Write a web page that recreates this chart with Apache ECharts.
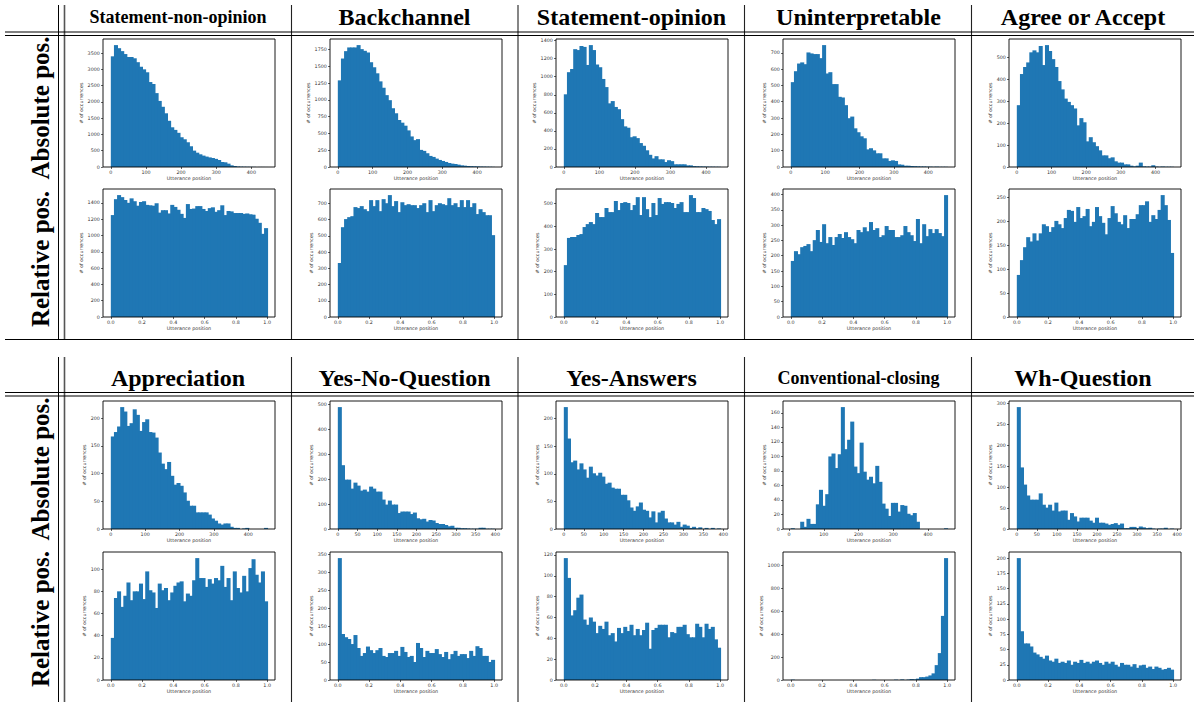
<!DOCTYPE html>
<html><head><meta charset="utf-8">
<script src="https://cdn.jsdelivr.net/npm/echarts@6/dist/echarts.min.js"></script>
<style>html,body{margin:0;padding:0;background:#fff}#c{width:1194px;height:702px}</style>
</head><body><div id="c"></div>
<script>
// ---------- labels ----------
const actsTop = ['Statement-non-opinion','Backchannel','Statement-opinion','Uninterpretable','Agree or Accept'];
const actsBottom = ['Appreciation','Yes-No-Question','Yes-Answers','Conventional-closing','Wh-Question'];
const rowLabels = ['Absolute pos.','Relative pos.'];
const xName = 'Utterance position';
const yName = '# of occurrences';

// ---------- histogram counts (50 bins each) ----------
// absolute position, top block
const snoAbs = [3400,3745,3650,3560,3470,3380,3380,3340,3220,3080,3000,2910,2610,2550,2270,2030,1850,1650,1420,1220,1140,1050,914,852,760,637,503,440,390,350,320,295,277,250,216,154,144,103,51,31,15,10,8,6,5,4,3,2,2,1];
const bcAbs = [1290,1615,1725,1780,1780,1780,1815,1755,1730,1705,1560,1485,1395,1275,1180,1070,995,875,800,700,660,615,545,455,400,415,255,240,205,165,150,125,105,90,75,60,50,45,35,25,20,15,12,10,8,6,5,4,3,2];
const soAbs = [805,1050,1085,1305,1295,1340,1330,1130,1350,1295,1135,1105,975,885,705,730,665,640,530,450,435,330,340,320,265,235,185,135,95,120,85,85,55,75,65,30,30,30,30,18,18,10,8,6,5,4,3,3,2,2];
const unAbs = [520,587,634,641,630,702,696,692,692,667,747,573,581,508,508,430,426,379,299,309,237,213,188,176,108,115,102,84,84,53,53,37,41,37,16,14,8,8,6,5,4,3,3,2,2,1,2,1,1,1];
const agAbs = [282,424,456,477,523,532,523,552,465,556,529,492,456,392,354,312,297,282,267,190,223,204,117,136,113,95,76,53,53,40,44,26,20,20,12,12,6,3,6,20,3,2,2,8,2,1,2,1,1,1];
// relative position, top block
const snoRel = [1250,1445,1495,1470,1435,1400,1455,1420,1365,1410,1420,1375,1370,1365,1395,1280,1310,1310,1270,1375,1350,1315,1265,1215,1385,1325,1330,1360,1360,1325,1300,1335,1345,1290,1310,1370,1250,1300,1295,1275,1275,1275,1265,1270,1260,1255,1205,1155,1020,1090];
const bcRel = [333,554,604,616,622,678,672,684,665,653,721,684,721,653,727,702,752,684,715,647,708,690,696,690,690,672,690,702,647,721,653,690,702,696,690,733,690,702,678,721,678,721,678,702,635,665,647,628,628,505];
const soRel = [229,349,353,353,362,366,397,410,419,410,459,441,441,481,463,463,512,472,503,507,503,472,494,529,450,529,476,441,503,450,525,499,507,507,503,481,499,507,463,463,538,525,463,463,481,476,468,428,410,432];
const unRel = [183,215,205,228,232,238,215,251,284,245,303,241,261,235,261,271,258,277,261,254,241,284,277,293,280,310,284,290,261,267,297,284,284,261,261,267,297,277,267,248,320,241,303,264,287,274,287,274,264,398];
const agRel = [88,119,146,167,158,175,160,175,194,190,178,188,201,194,186,207,224,222,199,230,207,211,226,190,199,230,211,197,173,207,232,217,199,194,213,186,205,205,215,234,234,242,199,213,205,224,255,234,203,134];
// absolute position, bottom block
const apAbs = [167,175,185,220,212,186,191,216,206,177,193,198,175,174,165,138,118,108,121,96,80,83,78,66,51,42,42,30,30,30,30,26,19,15,10,8,10,10,4,2,2,0,1,2,0,0,0,0,0,2];
const ynqAbs = [489,256,198,198,162,186,174,154,158,150,170,162,150,150,118,98,114,98,98,64,70,70,70,60,66,43,39,41,30,36,34,24,20,20,16,11,13,5,5,3,3,2,1,1,1,5,5,1,1,1];
const yaAbs = [221,164,121,124,108,119,108,93,113,101,97,102,95,82,84,75,73,73,62,62,52,39,33,41,48,35,33,21,32,12,30,33,19,12,12,8,13,4,8,6,2,4,1,3,0,2,0,2,0,1];
const ccAbs = [1,0,0,10,3,14,7,7,34,54,32,48,100,104,84,103,168,110,123,148,86,77,119,79,68,72,63,87,65,35,28,18,36,36,24,33,32,21,19,22,10,0,0,0,0,0,0,0,0,1];
const whAbs = [291,147,106,80,70,70,70,85,58,51,58,44,63,42,44,44,22,38,30,18,27,27,27,20,15,27,15,15,13,10,12,14,10,13,2,2,5,5,2,6,4,2,3,1,0,1,1,3,0,1];
// relative position, bottom block
const apRel = [38,74,80,66,76,88,72,80,80,87,73,98,81,79,65,87,81,83,72,79,85,88,89,71,78,76,90,110,92,92,84,91,87,92,90,103,84,92,72,98,83,79,94,80,101,109,95,88,98,71];
const ynqRel = [339,128,119,114,100,125,89,67,75,93,83,75,83,89,67,64,75,75,81,67,92,78,64,67,50,103,89,64,81,75,75,86,72,64,78,58,72,81,67,72,72,61,81,67,94,89,67,67,50,56];
const yaRel = [117,98,62,67,79,82,58,53,60,56,45,52,49,56,43,45,37,50,45,51,47,53,43,49,43,48,55,30,48,50,53,53,53,41,46,45,51,51,53,44,41,41,54,51,41,54,49,51,39,31];
const ccRel = [3,0,0,0,0,0,0,0,0,0,0,0,0,0,0,0,0,0,0,0,0,0,0,0,0,0,2,0,0,0,0,0,0,3,0,5,0,4,8,6,12,25,25,30,40,58,130,235,560,1065];
const whRel = [200,80,60,60,55,45,42,38,35,40,32,30,35,28,30,28,32,25,30,28,33,28,30,27,30,32,28,25,30,27,30,25,22,28,25,25,22,26,20,24,25,20,22,18,22,20,17,18,20,17];

// histogram ranges (absolute position, utterance index) for the 10 absolute panels
const absLo = [0,0,0,0,0, 0,0,0,5,0];
const absHi = [445,449,440,455,451, 455,397,392,455,390];

// ---------- tick labels ----------
const xTicksAbs100 = [0,100,200,300,400];
const xTicksAbs50 = [0,50,100,150,200,250,300,350,400];
const xTicksRel = [0,0.2,0.4,0.6,0.8,1.0];
const yTicks = [
  [[0,500,1000,1500,2000,2500,3000,3500],[0,250,500,750,1000,1250,1500,1750],[0,200,400,600,800,1000,1200,1400],[0,100,200,300,400,500,600,700],[0,100,200,300,400,500]],
  [[0,200,400,600,800,1000,1200,1400],[0,100,200,300,400,500,600,700],[0,100,200,300,400,500],[0,50,100,150,200,250,300,350,400],[0,50,100,150,200,250]],
  [[0,50,100,150,200],[0,100,200,300,400,500],[0,50,100,150,200],[0,20,40,60,80,100,120,140,160],[0,50,100,150,200,250,300]],
  [[0,20,40,60,80,100],[0,50,100,150,200,250,300,350],[0,20,40,60,80,100,120],[0,200,400,600,800,1000],[0,25,50,75,100,125,150,175,200]]
];
const panels = [
  [snoAbs,bcAbs,soAbs,unAbs,agAbs],
  [snoRel,bcRel,soRel,unRel,agRel],
  [apAbs,ynqAbs,yaAbs,ccAbs,whAbs],
  [apRel,ynqRel,yaRel,ccRel,whRel]
];
const absStep50 = [false,false,false,false,false, false,true,true,false,true];

// ---------- layout ----------
const colLeft = [103,330,556,783,1009];
const rowTop = [39,189,401,552];
const plotW = 172, plotH = 128;
const BAR = '#1f77b4';
const tickFont = 4.8;

function renderBar(params, api){
  const v = api.value(2);
  if (!(v > 0)) return null;
  const a = api.coord([api.value(0), 0]);
  const b = api.coord([api.value(1), v]);
  // slight overlap with the next bin hides anti-aliasing seams between adjacent bars
  return {type:'rect', shape:{x:a[0], y:b[1], width:(b[0]-a[0])+0.9, height:a[1]-b[1]},
          style:{fill:BAR}};
}

const grid=[], xAxis=[], yAxis=[], series=[], graphic=[];
for (let r=0;r<4;r++){
  for (let c=0;c<5;c++){
    const k = r*5+c;
    const vals = panels[r][c];
    const rel = r%2===1;
    const ai = (r<2?0:5)+c;
    const lo = rel?0:absLo[ai], hi = rel?1:absHi[ai];
    const n = vals.length, w=(hi-lo)/n;
    const data = vals.map((v,i)=>[lo+i*w, lo+(i+1)*w, v]);
    const ymax = Math.max(...vals)*1.05;
    const yt = yTicks[r][c];
    const xt = rel?xTicksRel:(absStep50[ai]?xTicksAbs50:xTicksAbs100);
    const maxLen = String(yt[yt.length-1]).length;
    grid.push({left:colLeft[c], top:rowTop[r], width:plotW, height:plotH, containLabel:false});
    xAxis.push({gridIndex:k, type:'value', min:lo-0.05*(hi-lo), max:hi+0.05*(hi-lo),
      axisLine:{show:false,onZero:false}, splitLine:{show:false},
      axisTick:{show:true, length:2, customValues:xt, lineStyle:{color:'#000',width:0.6}},
      axisLabel:{customValues:xt, fontSize:tickFont, color:'#333', margin:3.2, fontFamily:'DejaVu Sans',
        formatter: rel?(v=>v.toFixed(1)):(v=>String(Math.round(v)))},
      name:xName, nameLocation:'middle', nameGap:9,
      nameTextStyle:{fontSize:tickFont, color:'#333', fontFamily:'DejaVu Sans'}});
    yAxis.push({gridIndex:k, type:'value', min:0, max:ymax,
      axisLine:{show:false,onZero:false}, splitLine:{show:false},
      axisTick:{show:true, length:2, customValues:yt, lineStyle:{color:'#000',width:0.6}},
      axisLabel:{customValues:yt, fontSize:tickFont, color:'#333', margin:3.2, fontFamily:'DejaVu Sans',
        formatter: v=>String(Math.round(v))},
      name:yName, nameLocation:'middle', nameRotate:90, nameGap: 6 + maxLen*3.0,
      nameTextStyle:{fontSize:tickFont, color:'#333', fontFamily:'DejaVu Sans'}});
    series.push({type:'custom', xAxisIndex:k, yAxisIndex:k, data, renderItem:renderBar,
      encode:{x:[0,1], y:2}, silent:true, clip:true});
    graphic.push({type:'rect', silent:true, z:100, shape:{x:colLeft[c], y:rowTop[r], width:plotW, height:plotH},
      style:{fill:null, stroke:'#000', lineWidth:0.9}});
  }
}

// table rules
function hline(y,x1,x2,col,wd){ graphic.push({type:'line', silent:true, z:50, shape:{x1:x1,y1:y,x2:x2,y2:y}, style:{stroke:col,lineWidth:wd}}); }
function vline(x,y1,y2,col,wd){ graphic.push({type:'line', silent:true, z:50, shape:{x1:x,y1:y1,x2:x,y2:y2}, style:{stroke:col,lineWidth:wd}}); }
const colSep = [291.5,518,744.5,971.5];
const blocks = [{top:5,bottom:339.5,rule1:32,rule2:35.5,head:17,rows:[108,259]},
                {top:357,bottom:702,rule1:392.5,rule2:396,head:378,rows:[469,619]}];
const titles = [actsTop, actsBottom];
const colCenter = [178,404.5,631.5,858.5,1083];
blocks.forEach((b,bi)=>{
  vline(58.5,b.top,b.bottom,'#000',1);
  vline(64.5,b.top,b.bottom,'#555',1.6);
  colSep.forEach(x=>vline(x,b.top,b.bottom,'#222',1.1));
  hline(b.rule1,5,1194,'#000',1.2);
  hline(b.rule2,5,1194,'#000',1.2);
  if (bi===0) hline(b.bottom,5,1194,'#000',1.2);
  titles[bi].forEach((t,c)=>{
    const small = t.length>=20;
    graphic.push({type:'text', silent:true, x:colCenter[c], y:b.head,
      style:{text:t, fontFamily:'Liberation Serif', fontWeight:'bold', fontSize: small?18:24,
             fill:'#000', align:'center', verticalAlign:'middle'}});
  });
  rowLabels.forEach((t,ri)=>{
    graphic.push({type:'text', silent:true, x:40, y:b.rows[ri], rotation:Math.PI/2,
      style:{text:t, fontFamily:'Liberation Serif', fontWeight:'bold', fontSize:25,
             fill:'#000', align:'center', verticalAlign:'middle'}});
  });
});

const chart = echarts.init(document.getElementById('c'), null, {renderer:'svg', width:1194, height:702});
chart.setOption({animation:false, backgroundColor:'#fff', grid, xAxis, yAxis, series, graphic});
</script></body></html>
